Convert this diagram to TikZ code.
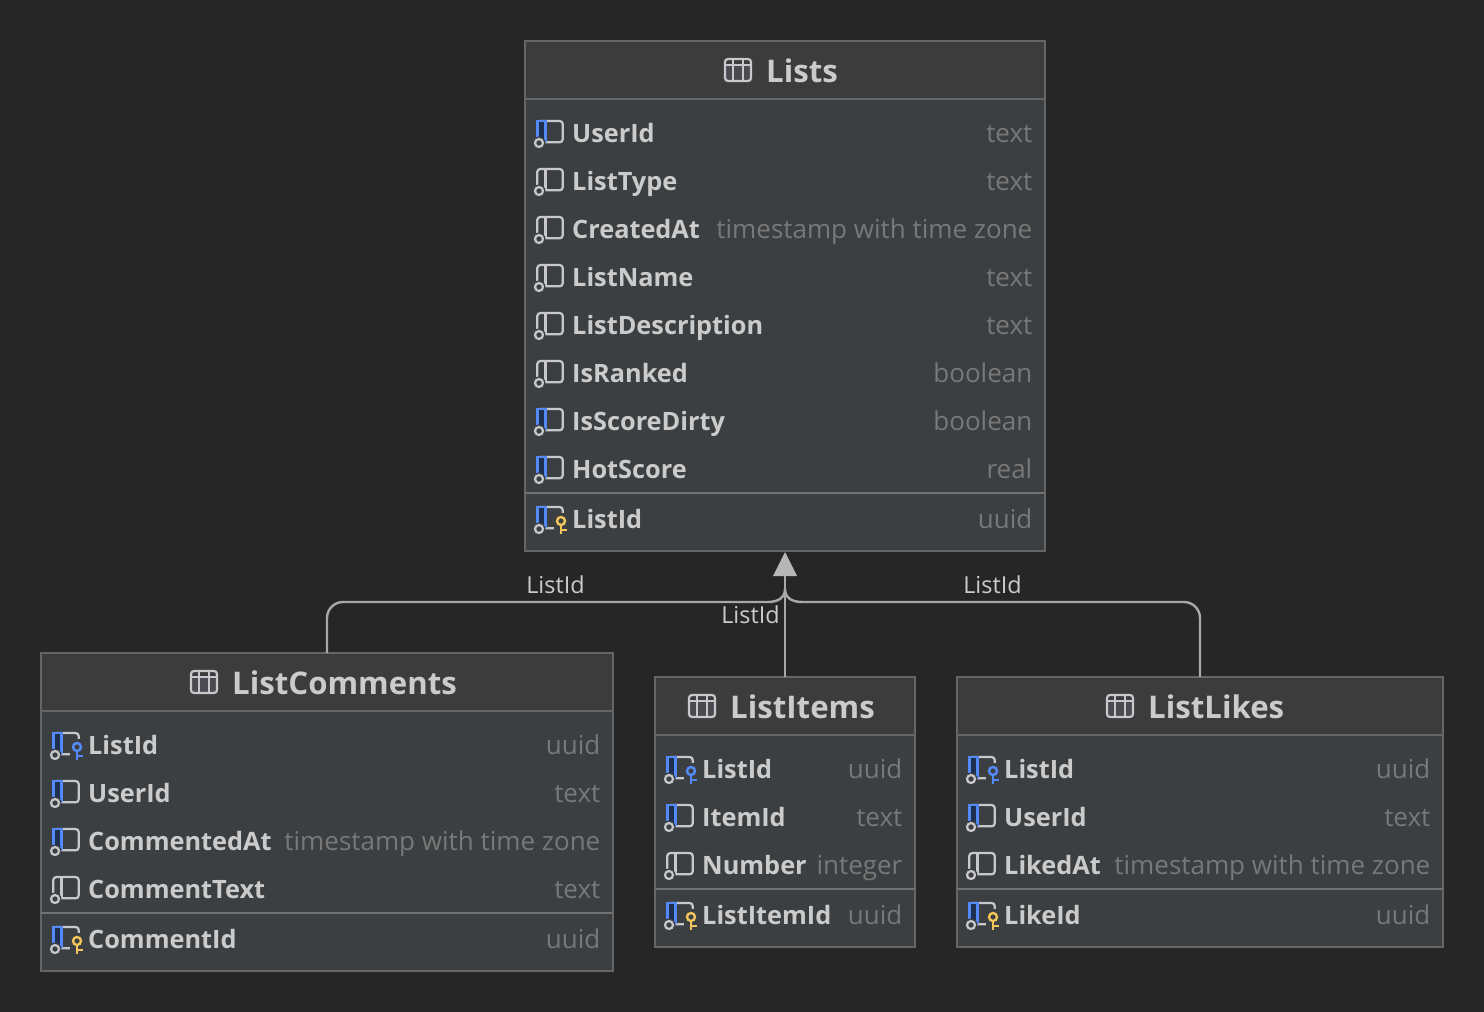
\documentclass[tikz,border=0pt]{standalone}
\usepackage{fontspec}
\setmainfont{Open Sans}
\usetikzlibrary{calc,positioning,arrows.meta}
\definecolor{canvasbg}{HTML}{262626}
\definecolor{headbg}{HTML}{3C3C3C}
\definecolor{bodybg}{HTML}{3C3F41}
\definecolor{boxline}{HTML}{656565}
\definecolor{sepline}{HTML}{727272}
\definecolor{nametext}{HTML}{CBCBCB}
\definecolor{typetext}{HTML}{787878}
\definecolor{iconline}{HTML}{C8C8CC}
\definecolor{cellfill}{HTML}{4A4A50}
\definecolor{stripblue}{HTML}{548AF7}
\definecolor{stripfill}{HTML}{1F2F4F}
\definecolor{keygold}{HTML}{F2C55C}
\definecolor{connline}{HTML}{A8A8A8}
\definecolor{tipfill}{HTML}{B6B6B6}
\tikzset{
  tablebox/.style={draw=boxline, line width=1.5pt, fill=bodybg, inner sep=0pt, outer sep=0pt},
  tablehead/.style={draw=boxline, line width=1.5pt, fill=headbg, inner sep=0pt, outer sep=0pt, anchor=north},
  tabletitle/.style={text=nametext, inner sep=0pt, anchor=base west, font=\fontsize{31.2}{36}\selectfont\bfseries},
  colname/.style={text=nametext, inner sep=0pt, anchor=base west, font=\fontsize{25.3}{30}\selectfont\bfseries},
  coltype/.style={text=typetext, inner sep=0pt, anchor=base east, font=\fontsize{26}{30}\selectfont},
  rowsep/.style={draw=sepline, line width=2pt},
  connect/.style={draw=connline, line width=2.4pt},
  connlabel/.style={text=nametext, inner sep=0pt, font=\fontsize{23.4}{26}\selectfont},
  pics/tableicon/.style={code={
    \fill[cellfill] (-13,-5) rectangle (13,11);
    \draw[iconline, line width=2.2pt, rounded corners=3pt] (-13,-11) rectangle (13,11);
    \draw[iconline, line width=2.2pt] (-13,-5) -- (13,-5) (-5,-11) -- (-5,11) (5,-11) -- (5,11);
  }},
  pics/colplain/.style={code={
    \draw[iconline, line width=2.2pt, rounded corners=3pt] (12.3,-12) rectangle (37.7,9.3);
    \draw[iconline, line width=2.2pt] (20.5,-12) -- (20.5,9.3);
    \fill[bodybg] (14,10) circle (6.5);
    \draw[iconline, line width=2.2pt] (14,10) circle (4);
  }},
  pics/colblue/.style={code={
    \draw[iconline, line width=2.2pt, rounded corners=3pt] (12.3,-12) rectangle (37.7,9.3);
    \filldraw[fill=stripfill, draw=stripblue, line width=2.4pt] (12.3,9) -- (12.3,-12) -- (20.5,-12) -- (20.5,9);
    \fill[bodybg] (14,10) circle (6.5);
    \draw[iconline, line width=2.2pt] (14,10) circle (4);
  }},
  pics/colkey/.style={code={
    \fill[bodybg] (29,-6.5) rectangle (43,15);
    \draw[#1, line width=2.4pt] (36,7) -- (36,14.5) (36,11) -- (41.5,11);
    \draw[#1, line width=2.4pt] (36,2) circle (4);
  }}
}
\newcommand{\colrow}[5]{
  \pic at (#1.west |- 0,#2) {#5};
  \node[colname] (#1#3) at ([xshift=47pt,yshift=-9pt]#1.west |- 0,#2) {#3};
  \node[coltype] (#1#3type) at ([xshift=-12.5pt,yshift=-9pt]#1.east |- 0,#2) {#4};
}
\begin{document}
\begin{tikzpicture}[x=1pt,y=-1pt]
  \fill[canvasbg] (0,0) rectangle (1484,1012);
  \useasboundingbox (0,0) rectangle (1484,1012);
  % Lists
  \node[tablebox, minimum width=520pt, minimum height=510pt] (lists) at (785,296) {};
  \node[tablehead, minimum width=520pt, minimum height=58pt] (listshead) at (lists.north) {};
  \pic at (738,70) {tableicon};
  \node[tabletitle] (liststitle) at (766,82) {Lists};
  \colrow{lists}{133}{UserId}{text}{colblue}
  \colrow{lists}{181}{ListType}{text}{colplain}
  \colrow{lists}{229}{CreatedAt}{timestamp with time zone}{colplain}
  \colrow{lists}{277}{ListName}{text}{colplain}
  \colrow{lists}{325}{ListDescription}{text}{colplain}
  \colrow{lists}{373}{IsRanked}{boolean}{colplain}
  \colrow{lists}{421}{IsScoreDirty}{boolean}{colblue}
  \colrow{lists}{469}{HotScore}{real}{colblue}
  \draw[rowsep] (lists.west |- 0,493) -- (lists.east |- 0,493);
  \colrow{lists}{519}{ListId}{uuid}{colblue}
  \pic at (lists.west |- 0,519) {colkey=keygold};
  % ListComments
  \node[tablebox, minimum width=572pt, minimum height=318pt] (comments) at (327,812) {};
  \node[tablehead, minimum width=572pt, minimum height=58pt] (commentshead) at (comments.north) {};
  \pic at (204,682) {tableicon};
  \node[tabletitle] (commentstitle) at (232,694) {ListComments};
  \colrow{comments}{745}{ListId}{uuid}{colblue}
  \pic at (comments.west |- 0,745) {colkey=stripblue};
  \colrow{comments}{793}{UserId}{text}{colblue}
  \colrow{comments}{841}{CommentedAt}{timestamp with time zone}{colblue}
  \colrow{comments}{889}{CommentText}{text}{colplain}
  \draw[rowsep] (comments.west |- 0,913) -- (comments.east |- 0,913);
  \colrow{comments}{939}{CommentId}{uuid}{colblue}
  \pic at (comments.west |- 0,939) {colkey=keygold};
  % ListItems
  \node[tablebox, minimum width=260pt, minimum height=270pt] (items) at (785,812) {};
  \node[tablehead, minimum width=260pt, minimum height=58pt] (itemshead) at (items.north) {};
  \pic at (702,706) {tableicon};
  \node[tabletitle] (itemstitle) at (730,718) {ListItems};
  \colrow{items}{769}{ListId}{uuid}{colblue}
  \pic at (items.west |- 0,769) {colkey=stripblue};
  \colrow{items}{817}{ItemId}{text}{colblue}
  \colrow{items}{865}{Number}{integer}{colplain}
  \draw[rowsep] (items.west |- 0,889) -- (items.east |- 0,889);
  \colrow{items}{915}{ListItemId}{uuid}{colblue}
  \pic at (items.west |- 0,915) {colkey=keygold};
  % ListLikes
  \node[tablebox, minimum width=486pt, minimum height=270pt] (likes) at (1200,812) {};
  \node[tablehead, minimum width=486pt, minimum height=58pt] (likeshead) at (likes.north) {};
  \pic at (1120,706) {tableicon};
  \node[tabletitle] (likestitle) at (1148,718) {ListLikes};
  \colrow{likes}{769}{ListId}{uuid}{colblue}
  \pic at (likes.west |- 0,769) {colkey=stripblue};
  \colrow{likes}{817}{UserId}{text}{colblue}
  \colrow{likes}{865}{LikedAt}{timestamp with time zone}{colplain}
  \draw[rowsep] (likes.west |- 0,889) -- (likes.east |- 0,889);
  \colrow{likes}{915}{LikeId}{uuid}{colblue}
  \pic at (likes.west |- 0,915) {colkey=keygold};
  % connectors
  \coordinate (join) at ($(lists.south)+(0,25)$);
  \coordinate (bend) at ($(lists.south)+(0,51)$);
  \draw[connect] (items.north) -- (join);
  \draw[connect, rounded corners=16pt] (comments.north) |- ($(bend)+(-17,0)$);
  \draw[connect] ($(bend)+(-17,0)$) .. controls ($(bend)+(-6,0)$) and ($(bend)+(0,-5)$) .. ($(bend)+(0,-13)$);
  \draw[connect, rounded corners=16pt] (likes.north) |- ($(bend)+(17,0)$);
  \draw[connect] ($(bend)+(17,0)$) .. controls ($(bend)+(6,0)$) and ($(bend)+(0,-5)$) .. ($(bend)+(0,-13)$);
  \fill[tipfill] ($(lists.south)+(0,1)$) -- ($(join)+(-12,0)$) -- ($(join)+(12,0)$) -- cycle;
  \node[connlabel] (labelcomments) at (555.5,585) {ListId};
  \node[connlabel] (labelitems) at (750.5,615) {ListId};
  \node[connlabel] (labellikes) at (992.5,585) {ListId};
\end{tikzpicture}
\end{document}
